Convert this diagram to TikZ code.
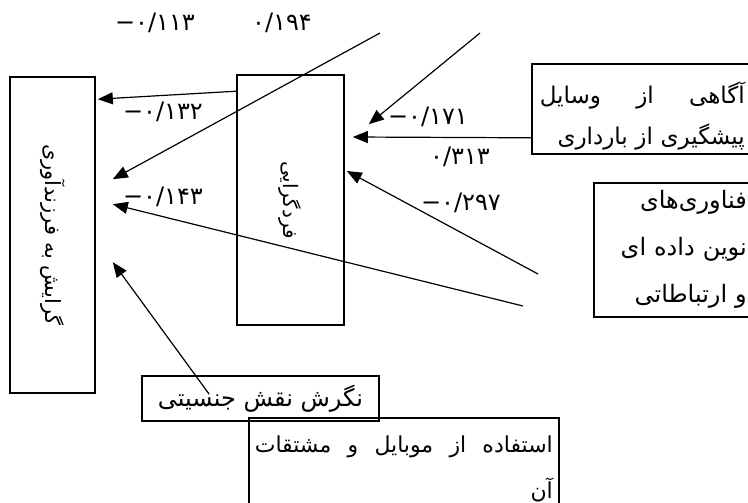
\documentclass[tikz,border=0pt]{standalone}
\usepackage{fontspec}
\usepackage{graphicx}
\usepackage{tikz}
\usetikzlibrary{arrows.meta}
\TeXXeTstate=1
\newfontfamily\farsi[Script=Arabic]{DejaVu Sans}
\newcommand{\fa}[1]{\beginR #1\endR}
\newcommand{\moins}{\mbox{−}}

\begin{document}
\begin{tikzpicture}[
                x=1pt, y=-1pt,
                box/.style={draw, rectangle, line width=1.6pt, inner sep=0pt, font=\farsi\fontsize{22}{26}\selectfont},
                coef/.style={inner sep=0pt, font=\farsi\fontsize{24}{28}\selectfont},
                arrow/.style={-{Triangle[length=15pt, width=12pt]}, line width=1.2pt}]
            % Cadre
            \path[use as bounding box, clip] (0,0) rectangle (748,503);

            % Boites
            \node[box, minimum width=85pt, minimum height=316pt, font=\farsi\fontsize{21}{26}\selectfont] (gerayesh) at (52.5,235) {\rotatebox{-90}{\fa{گرایش به فرزندآوری}}};
            \node[box, minimum width=107pt, minimum height=250pt, font=\farsi\fontsize{20}{26}\selectfont] (fardgarayi) at (290.5,200) {\rotatebox{-90}{\fa{فردگرایی}}};
            \node[box, anchor=north west, minimum height=90pt, text width=205pt, inner xsep=8pt, align=right,
                  font=\farsi\fontsize{23}{41}\selectfont] (agahi) at (531,63)
                  {\hbox to 205pt{\rule{0pt}{36pt}\beginR آگاهی\hfill از\hfill وسایل\endR}\\ \fa{پیشگیری از بارداری}};
            \node[box, anchor=north west, minimum height=134pt, text width=150pt, inner xsep=3pt, align=right,
                  font=\farsi\fontsize{24}{47}\selectfont] (fanavari) at (593,182)
                  {\fa{فناوری‌های}\\ \fa{نوین داده ای}\\ \fa{و ارتباطاتی}};
            \node[box, minimum width=237pt, minimum height=45pt, font=\farsi\fontsize{24}{30}\selectfont] (negaresh) at (260.5,398.5) {\fa{نگرش نقش جنسیتی}};
            \node[box, anchor=north west, minimum height=103pt, text width=298pt, inner xsep=6pt, align=right,
                  font=\farsi\fontsize{22}{46}\selectfont] (mobile) at (248,417)
                  {\hbox to 298pt{\beginR استفاده\hfill از\hfill موبایل\hfill و\hfill مشتقات\endR}\\ \fa{آن}};

            % Bouts libres
            \coordinate (haut1) at (380,33);
            \coordinate (haut2) at (480,33);
            \coordinate (droite1) at (538,274);
            \coordinate (droite2) at (523,306);

            % Flèches
            \draw[arrow] ([yshift=-17pt]fardgarayi.north west) -- ([xshift=2pt, yshift=-23pt]gerayesh.north east);
            \draw[arrow] (haut1) -- ([xshift=17pt, yshift=-103pt]gerayesh.north east);
            \draw[arrow] (haut2) -- ([xshift=24pt, yshift=-50pt]fardgarayi.north east);
            \draw[arrow] ([yshift=-29pt]agahi.west) -- ([xshift=8pt, yshift=63pt]fardgarayi.east);
            \draw[arrow] (droite1) -- ([xshift=2pt, yshift=29pt]fardgarayi.east);
            \draw[arrow] (droite2) -- ([xshift=17pt, yshift=-128pt]gerayesh.north east);
            \draw[arrow] ([xshift=68pt, yshift=-19pt]negaresh.north west) -- ([xshift=17pt, yshift=-186pt]gerayesh.north east);

            % Coefficients
            \node[coef] (c113) at (155,23) {\moins۰/۱۱۳};
            \node[coef] (c194) at (282,23) {۰/۱۹۴};
            \node[coef] (c132) at (163,112) {\moins۰/۱۳۲};
            \node[coef] (c143) at (163,197) {\moins۰/۱۴۳};
            \node[coef] (c171) at (428,117) {\moins۰/۱۷۱};
            \node[coef] (c313) at (460,157) {۰/۳۱۳};
            \node[coef] (c297) at (461,203) {\moins۰/۲۹۷};

        \end{tikzpicture}
\end{document}
